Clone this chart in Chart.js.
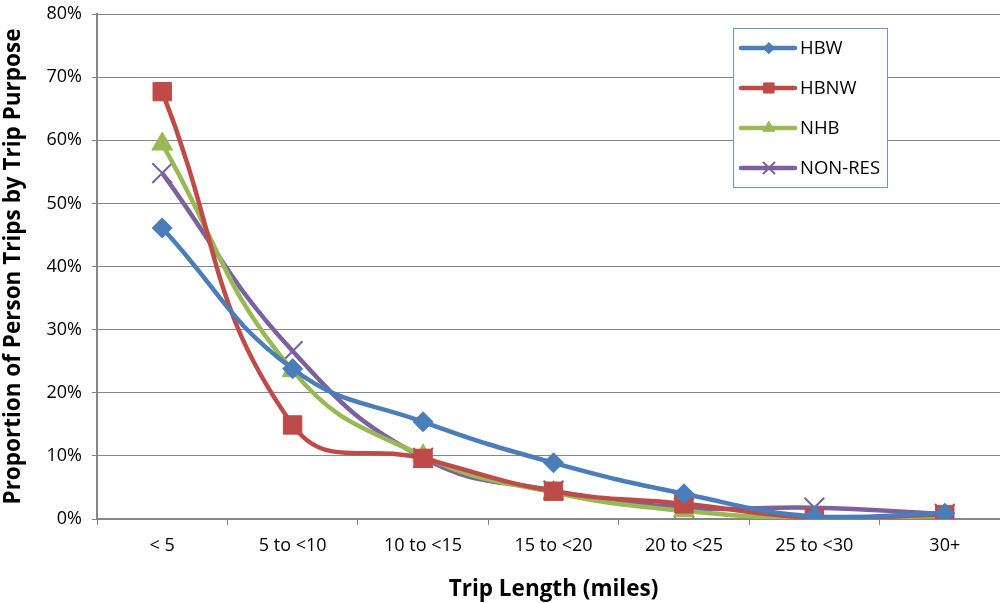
<!DOCTYPE html>
<html>
<head>
<meta charset="utf-8">
<script src="https://cdn.jsdelivr.net/npm/chart.js@4/dist/chart.umd.min.js"></script>
<style>
  html, body { margin: 0; padding: 0; background: #fff; overflow: hidden; }
  #wrap { width: 1012px; height: 603px; }
</style>
</head>
<body>
<div id="wrap"><canvas id="tripChart" width="1012" height="603"></canvas></div>
<script>
  // categories & values (percent)
  const tripLengths = ['< 5', '5 to <10', '10 to <15', '15 to <20', '20 to <25', '25 to <30', '30+'];
  const hbw    = [46.1, 23.8, 15.4, 8.9, 4.0, 0.4, 0.9];
  const hbnw   = [67.7, 14.9, 9.6, 4.4, 2.4, 0.2, 0.7];
  const nhb    = [59.4, 23.5, 10.0, 4.2, 1.3, 0.1, 0.5];
  const nonRes = [54.8, 26.6, 9.7, 4.5, 1.8, 1.8, 0.8];
  const yTicks = [0, 10, 20, 30, 40, 50, 60, 70, 80];

  const font = "'Open Sans', Lato, sans-serif";

  // legend box drawn inside plot, like the excel one
  const boxLegend = {
    id: 'boxLegend',
    afterDraw(chart) {
      const ctx = chart.ctx;
      const x = 733, y = 28, w = 154, h = 159;
      ctx.save();
      ctx.fillStyle = '#fff';
      ctx.fillRect(x, y, w, h);
      ctx.strokeStyle = '#6f97cc';
      ctx.lineWidth = 1;
      ctx.strokeRect(x + 0.5, y + 0.5, w, h);
      chart.data.datasets.forEach((ds, i) => {
        const cy = y + 20 + i * 40;
        ctx.strokeStyle = ds.borderColor;
        ctx.lineWidth = 4.5;
        ctx.lineCap = 'round';
        ctx.beginPath();
        ctx.moveTo(x + 8, cy);
        ctx.lineTo(x + 62, cy);
        ctx.stroke();
        ctx.fillStyle = ds.borderColor;
        ctx.lineWidth = ds.pointBorderWidth;
        Chart.helpers.drawPoint(ctx, {
          pointStyle: ds.pointStyle,
          rotation: 0,
          radius: ds.legendRadius,
          borderWidth: ds.pointBorderWidth
        }, x + 36, cy);
        ctx.fillStyle = '#000';
        ctx.font = '18.5px ' + font;
        ctx.textBaseline = 'middle';
        ctx.fillText(ds.label, x + 67, cy + 1);
      });
      ctx.restore();
    }
  };

  function makeSet(label, data, color, style, radius, bw) {
    return {
      label: label,
      data: data,
      borderColor: color,
      backgroundColor: color,
      pointBackgroundColor: color,
      pointBorderColor: color,
      pointStyle: style,
      pointRadius: radius,
      pointBorderWidth: bw,
      legendRadius: radius * 0.55,
      borderWidth: 4.5,
      tension: 0.45,
      fill: false
    };
  }

  const ctx = document.getElementById('tripChart').getContext('2d');
  new Chart(ctx, {
    type: 'line',
    data: {
      labels: tripLengths,
      datasets: [
        makeSet('HBW', hbw, '#4a7ebb', 'rectRot', 10, 1),
        makeSet('HBNW', hbnw, '#be4b48', 'rect', 13, 1),
        makeSet('NHB', nhb, '#98b954', 'triangle', 12, 1),
        makeSet('NON-RES', nonRes, '#7d60a0', 'crossRot', 14, 2)
      ]
    },
    options: {
      responsive: false,
      animation: false,
      layout: { autoPadding: false, padding: { left: 0, right: 2, top: 14, bottom: 0 } },
      plugins: {
        legend: { display: false },
        tooltip: { enabled: false }
      },
      scales: {
        x: {
          offset: true,
          grid: {
            offset: true,
            drawOnChartArea: false,
            drawTicks: true,
            tickLength: 6,
            color: '#868686'
          },
          border: { color: '#868686', width: 2 },
          ticks: { color: '#000', font: { family: font, size: 18 }, padding: 10, maxRotation: 0 },
          title: {
            display: true,
            text: 'Trip Length (miles)',
            color: '#000',
            font: { family: font, size: 22.5, weight: 'bold' },
            padding: { top: 0, bottom: 0 }
          },
          afterFit(scale) { scale.height = 84; scale.paddingLeft = 0; scale.paddingRight = 0; }
        },
        y: {
          min: 0,
          max: 80,
          afterBuildTicks(scale) { scale.ticks = yTicks.map(v => ({ value: v })); },
          grid: {
            color: '#868686',
            lineWidth: 1,
            drawTicks: true,
            tickLength: 5
          },
          border: { color: '#868686', width: 2 },
          ticks: {
            color: '#000',
            font: { family: font, size: 18 },
            padding: 10,
            callback: v => v + '%'
          },
          title: {
            display: true,
            text: 'Proportion of Person Trips by Trip Purpose',
            color: '#000',
            font: { family: font, size: 22.5, weight: 'bold' },
            padding: { top: 0, bottom: 0 }
          },
          afterFit(scale) { scale.width = 97; scale.paddingTop = 0; scale.paddingBottom = 0; }
        }
      }
    },
    plugins: [boxLegend]
  });
</script>
</body>
</html>
